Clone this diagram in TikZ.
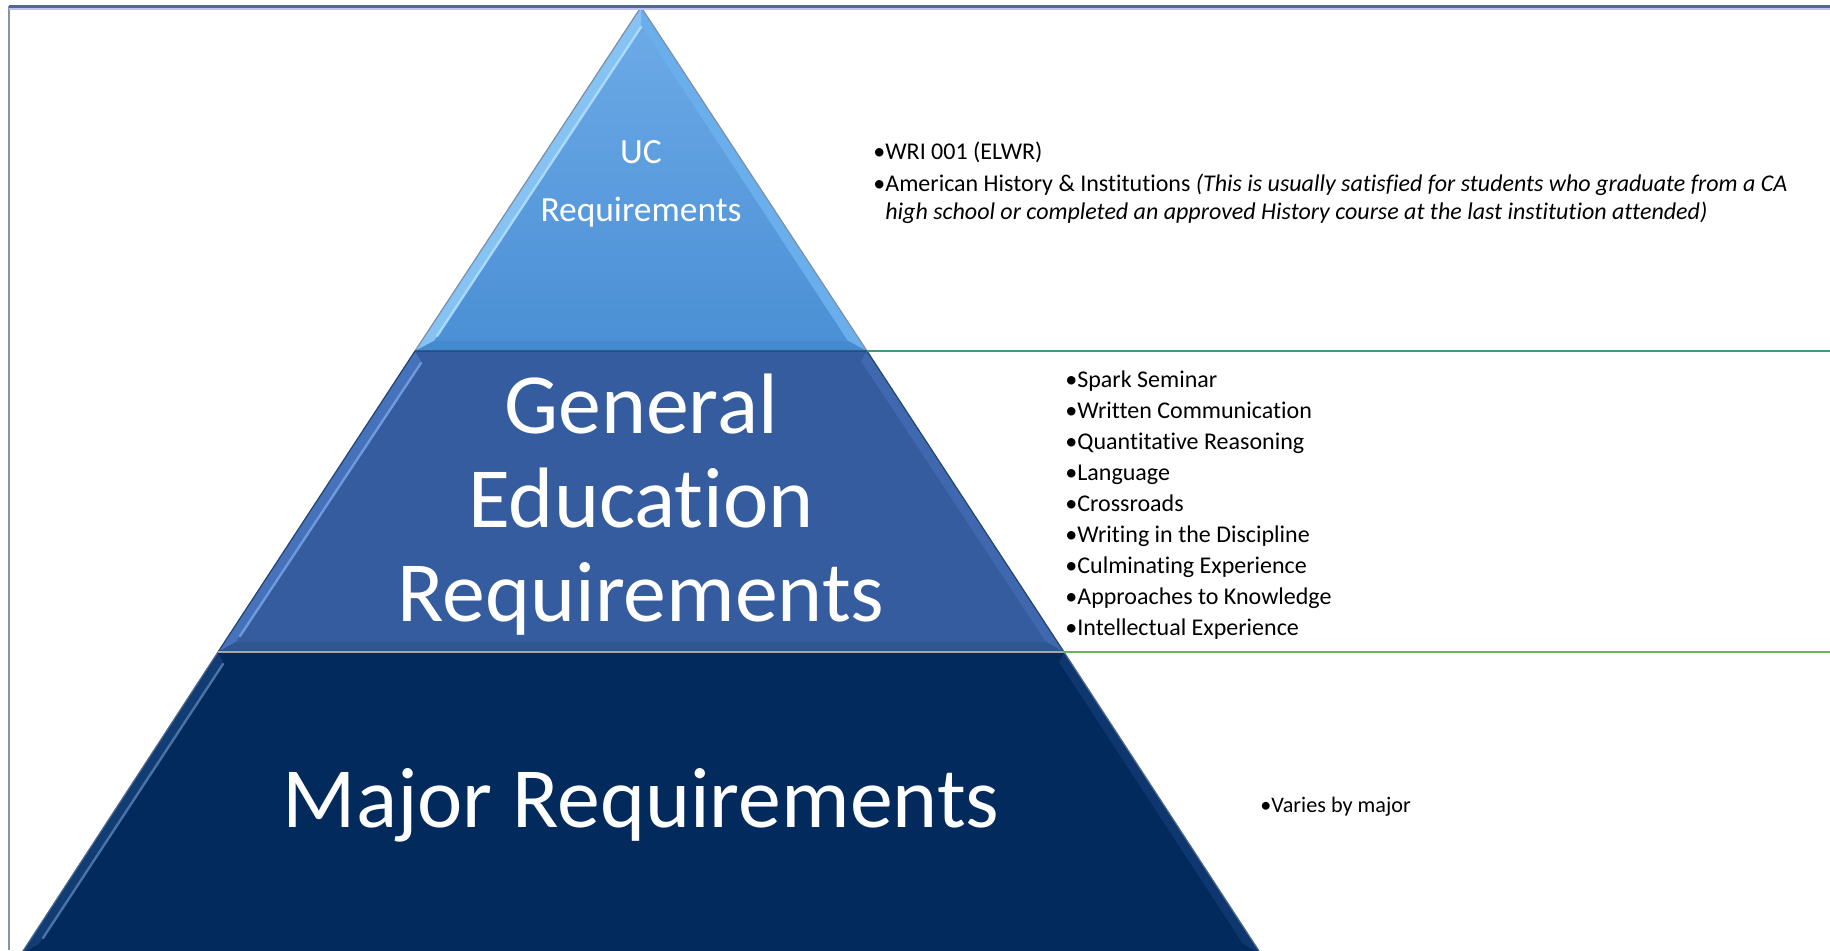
\documentclass[tikz,border=0pt]{standalone}
\usepackage{fontspec}
\setmainfont{Carlito}[Ligatures={NoCommon}]

\definecolor{ucTop}{HTML}{6EABE8}
\definecolor{ucBot}{HTML}{4A8FD4}
\definecolor{ucLeft}{HTML}{86C2F2}
\definecolor{ucRight}{HTML}{6AAFEC}
\definecolor{ucBottom}{HTML}{438ACF}
\definecolor{ucShine}{HTML}{A8DAFA}
\definecolor{geBase}{HTML}{345C9E}
\definecolor{geLeft}{HTML}{4572BA}
\definecolor{geRight}{HTML}{3F68AE}
\definecolor{geBottom}{HTML}{30568F}
\definecolor{geShine}{HTML}{6E9BE0}
\definecolor{mjBase}{HTML}{022A5C}
\definecolor{mjLeft}{HTML}{123C74}
\definecolor{mjRight}{HTML}{0D376E}
\definecolor{mjShine}{HTML}{4A73A8}
\definecolor{edgeDark}{HTML}{24446F}
\definecolor{guideA}{HTML}{3E9C74}
\definecolor{guideB}{HTML}{6DB35A}
\definecolor{frameTop}{HTML}{4F6A8C}
\definecolor{frameSide}{HTML}{8792A6}

\tikzset{
  tierlabel/.style={text=white, inner sep=0pt, anchor=base},
  smalltier/.style={tierlabel, font=\fontsize{17.7}{20}\selectfont},
  bigtier/.style={tierlabel, font=\fontsize{42.9}{46}\selectfont},
  listitem/.style={text=black, inner sep=0pt, anchor=base west, font=\fontsize{12}{14}\selectfont},
  guide/.style={line width=1pt},
  shine/.style={line width=1.2pt, line cap=round},
}

\begin{document}
\begin{tikzpicture}[x=0.5pt,y=-0.5pt]
  \useasboundingbox (0,0) rectangle (1830,950);

  % corners of the pyramid
  \coordinate (apex) at (641,7);
  \coordinate (ucL) at (415,351);
  \coordinate (ucR) at (867,351);
  \coordinate (geL) at (218,652);
  \coordinate (geR) at (1064,652);
  \coordinate (mjL) at (21,954);
  \coordinate (mjR) at (1261,954);

  % UC tier
  \shade[top color=ucTop, bottom color=ucBot] (apex) -- (ucR) -- (ucL) -- cycle;
  \fill[ucLeft] (apex) -- (ucL) -- (434,341) -- (641,25) -- cycle;
  \fill[ucRight] (apex) -- (ucR) -- (848,341) -- (641,25) -- cycle;
  \fill[ucBottom] (ucL) -- (ucR) -- (848,341) -- (434,341) -- cycle;
  \draw[ucShine, shine] (437,336) -- (641,27);
  \draw[edgeDark!60, line width=0.6pt] (ucL) -- (apex) -- (ucR);

  % General Education tier
  \fill[geBase] (ucL) -- (ucR) -- (geR) -- (geL) -- cycle;
  \fill[geLeft] (ucL) -- (geL) -- (236,642) -- (421,361) -- cycle;
  \fill[geRight] (ucR) -- (geR) -- (1046,642) -- (861,361) -- cycle;
  \fill[geBottom] (geL) -- (geR) -- (1046,642) -- (236,642) -- cycle;
  \draw[geShine, shine] (240,636) -- (421,363);
  \draw[edgeDark, line width=0.6pt] (geL) -- (ucL) -- (ucR) -- (geR);

  % Major tier
  \fill[mjBase] (geL) -- (geR) -- (mjR) -- (mjL) -- cycle;
  \fill[mjLeft] (geL) -- (mjL) -- (39,944) -- (223,662) -- cycle;
  \fill[mjRight] (geR) -- (mjR) -- (1243,944) -- (1059,662) -- cycle;
  \draw[mjShine, shine] (43,938) -- (223,664);
  \draw[gray!70, line width=0.6pt] (geL) -- (geR);
  \draw[edgeDark!80, line width=0.6pt] (mjL) -- (geL) (geR) -- (mjR);

  % guide lines to the right
  \coordinate (rimA) at (1830,351);
  \coordinate (rimB) at (1830,652);
  \draw[guide, guideA] (ucR) -- (rimA);
  \draw[guide, guideB] (geR) -- (rimB);

  % tier titles
  \node[smalltier] (uc1) at (641,163) {UC};
  \node[smalltier] (uc2) at (641,221) {Requirements};
  \foreach \word [count=\i] in {General, Education, Requirements}
    \node[bigtier] (ge\i) at (641,339+94*\i) {\word};
  \node[bigtier] (major) at (641,827) {Major Requirements};

  % UC items
  \node[listitem] (wri) at (873,159) {•WRI 001 (ELWR)};
  \node[listitem] (ahi) at (873,191) {•American History \& Institutions \textit{(This is usually satisfied for students who graduate from a CA}};
  \node[listitem] (ahiwrap) at (873,219) {\hphantom{•}\textit{high school or completed an approved History course at the last institution attended)}};

  % GE items
  \foreach \course [count=\i from 0] in {Spark Seminar, Written Communication, Quantitative Reasoning,
      Language, Crossroads, Writing in the Discipline, Culminating Experience,
      Approaches to Knowledge, Intellectual Experience}
    \node[listitem] (gei\i) at (1065,387+31*\i) {•\course};

  % Major items
  \node[listitem, font=\fontsize{11.1}{13}\selectfont] (varies) at (1260,812) {•Varies by major};

  % frame
  \coordinate (frTL) at (9,6);
  \coordinate (frTR) at (1830,6);
  \coordinate (frBL) at (9,950);
  \draw[frameSide, line width=0.8pt] (frBL) -- (frTL);
  \draw[blue!25, line width=0.6pt] (9,9) -- (1830,9);
  \draw[frameTop, line width=1.5pt] (frTL) -- (frTR);
\end{tikzpicture}
\end{document}
